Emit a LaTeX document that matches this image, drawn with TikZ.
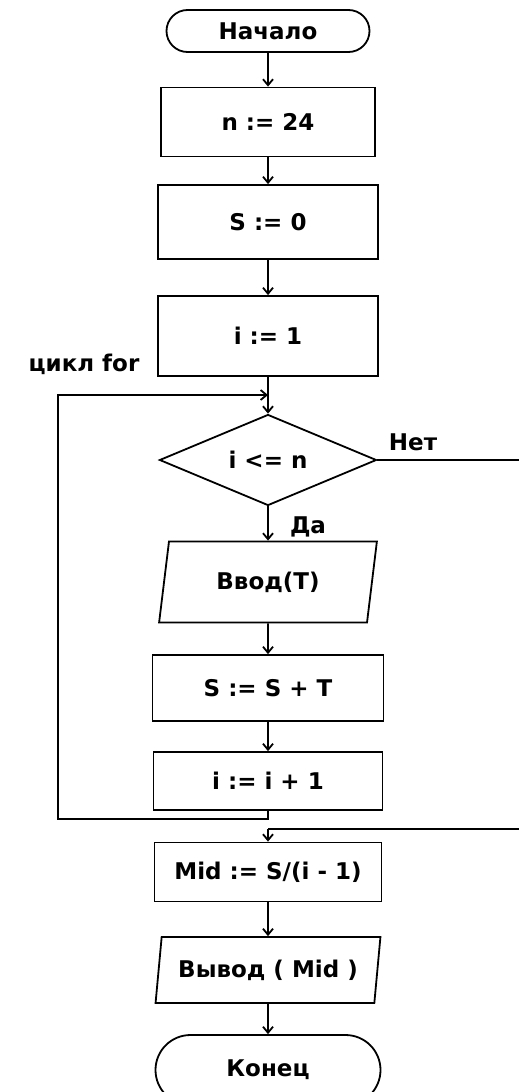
\documentclass[tikz,border=0pt]{standalone}
\usepackage{fontspec}
\setmainfont{DejaVu Sans}
\usetikzlibrary{shapes.geometric,shapes.misc,arrows.meta}

\begin{document}
\begin{tikzpicture}[x=1pt,y=-1pt,line width=1.8pt,>={Straight Barb[length=6pt,width=10pt]},
	every node/.style={font=\bfseries\fontsize{23}{26}\selectfont},
	term/.style={draw,rounded rectangle,inner sep=0pt},
	proc/.style={draw,rectangle,inner sep=0pt},
	io/.style={draw,trapezium,trapezium left angle=76,trapezium right angle=104,trapezium stretches=true,inner sep=0pt},
	decision/.style={draw,diamond,aspect=2.4,inner sep=1pt}]

	\useasboundingbox (0,0) rectangle (519,1092);
	\clip (0,0) rectangle (519,1092);

	\node[term,minimum width=203,minimum height=42] (start) at (268,31) {Начало};
	\node[proc,minimum width=214,minimum height=69] (n) at (268,122) {n := 24};
	\node[proc,minimum width=220,minimum height=74] (s) at (268,222) {S := 0};
	\node[proc,minimum width=220,minimum height=80] (i) at (268,336) {i := 1};
	\node[decision,minimum width=217,minimum height=91] (check) at (268,460) {i <= n};
	\node[io,minimum width=218,minimum height=81] (input) at (268,582) {Ввод(T)};
	\node[proc,minimum width=231,minimum height=66] (sum) at (268,688) {S := S + T};
	\node[proc,minimum width=229,minimum height=58] (inc) at (268,781) {i := i + 1};
	\node[proc,minimum width=227,minimum height=59] (mid) at (268,872) {Mid := S/(i - 1)};
	\node[io,minimum width=225,minimum height=66] (output) at (268,970) {Вывод ( Mid )};
	\node[term,minimum width=225,minimum height=70] (stop) at (268,1070) {Конец};

	\node (loop) at (84,364) {цикл for};
	\node (no) at (413,442) {Нет};
	\node (yes) at (308,527) {Да};

	\coordinate (join) at (268,395);
	\coordinate (back) at (58,819);
	\coordinate (right) at (545,829);
	\coordinate (merge) at (268,829);

	\draw[->] (start) -- (n);
	\draw[->] (n) -- (s);
	\draw[->] (s) -- (i);
	\draw[->] (i) -- (check);
	\draw[->] (check) -- (input);
	\draw[->] (input) -- (sum);
	\draw[->] (sum) -- (inc);
	\draw[->] (inc.south) |- (back) |- (join);
	\draw (check.east) -| (right) -- (merge);
	\draw[->] (merge) -- (mid);
	\draw[->] (mid) -- (output);
	\draw[->] (output) -- (stop);

\end{tikzpicture}
\end{document}
